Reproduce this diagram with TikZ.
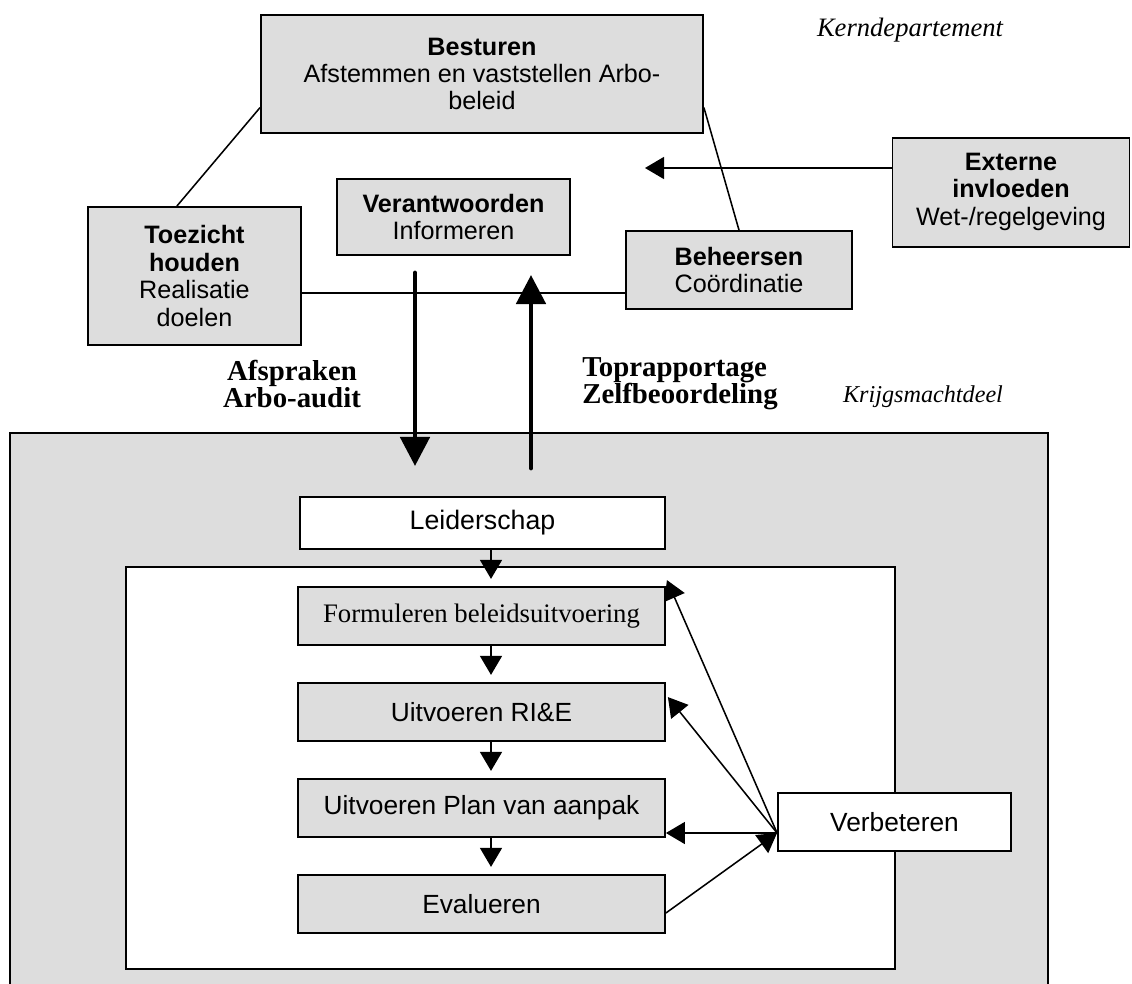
\documentclass[tikz,border=0pt]{standalone}
\usepackage{fontspec}
\setmainfont{Liberation Serif}
\setsansfont{Liberation Sans}
\usetikzlibrary{arrows.meta,calc}
\definecolor{boxgray}{RGB}{221,221,221}
\begin{document}
\begin{tikzpicture}[x=0.025cm,y=-0.025cm,
  sz/.style 2 args={minimum width=#1*0.025cm, minimum height=#2*0.025cm},
  gbox/.style={draw, fill=boxgray, line width=1.3pt, inner sep=0pt, align=center,
    font=\sffamily\fontsize{17.9}{19.5}\selectfont},
  lbox/.style={gbox, font=\sffamily\fontsize{18.7}{20}\selectfont},
  wbox/.style={lbox, fill=white},
  frame/.style={draw, line width=1.3pt, inner sep=0pt},
  conn/.style={line width=1.1pt},
  arr/.style={conn, -{Triangle[length=0.475cm,width=0.55cm]}},
  bigarr/.style={line width=3.5pt, line cap=round, -{Triangle[length=0.725cm,width=0.725cm]}},
  serlab/.style={font=\bfseries\fontsize{20.5}{19}\selectfont, inner sep=0pt},
  itlab/.style={font=\itshape\fontsize{18}{20}\selectfont, inner sep=0pt}
]
\useasboundingbox (0,0) rectangle (1132,984);
\clip (0,0) rectangle (1132,984);

% large frames
\node[frame, fill=boxgray, sz={1038}{600}] (kd) at (529,733) {};
\node[frame, fill=white, sz={769}{402}] (inner) at (510.5,768) {};

% top boxes
\node[gbox, sz={442}{118}] (bes) at (482,74)
  {{\bfseries Besturen}\\Afstemmen en vaststellen Arbo-\\beleid};
\node[gbox, sz={237}{109}] (ext) at (1011,192.5)
  {\raisebox{5pt}{\begin{tabular}{@{}c@{}}{\bfseries Externe}\\{\bfseries invloeden}\\Wet-/regelgeving\end{tabular}}};
\node[gbox, sz={233}{76}] (ver) at (453.5,217)
  {{\bfseries Verantwoorden}\\Informeren};
\node[gbox, sz={213}{138}] (toe) at (194.5,276)
  {{\bfseries Toezicht}\\{\bfseries houden}\\Realisatie\\doelen};
\node[gbox, sz={226}{78}] (beh) at (739,270)
  {{\bfseries Beheersen}\\Coördinatie};

% lower boxes
\node[wbox, sz={365}{52}, font=\sffamily\fontsize{19}{20}\selectfont] (lei) at (482.5,523) {Leiderschap};
\node[gbox, sz={367}{58}, font=\rmfamily\fontsize{19}{20}\selectfont] (f1) at (481.5,616) {Formuleren beleidsuitvoering};
\node[lbox, sz={367}{58}] (f2) at (481.5,712) {Uitvoeren RI\&E};
\node[lbox, sz={367}{58}] (f3) at (481.5,808) {Uitvoeren Plan van aanpak};
\node[lbox, sz={367}{58}] (f4) at (481.5,904) {Evalueren};
\node[wbox, sz={233}{58}] (vb) at (894.5,822) {Verbeteren};

% labels
\node[itlab, font=\itshape\fontsize{18.9}{20}\selectfont] (kern) at (910,30) {Kerndepartement};
\node[serlab, align=center] (afs) at (292,384) {Afspraken\\Arbo-audit};
\node[serlab, align=left, anchor=west] (top) at (582,384) {Toprapportage\\Zelfbeoordeling};
\node[itlab, font=\itshape\fontsize{17.2}{20}\selectfont] (krijg) at (923,397) {Krijgsmachtdeel};

% top connectors
\draw[conn] ($(bes.south west)!0.22!(bes.north west)$) -- ($(toe.north west)!0.418!(toe.north east)$);
\draw[conn] ($(bes.south east)!0.22!(bes.north east)$) -- (beh.north);
\coordinate (hl) at (0,293);
\draw[conn] (toe.east |- hl) -- (beh.west |- hl);
\coordinate (exttip) at (645,168);
\draw[arr] (ext.west |- exttip) -- (exttip);

% thick arrows
\coordinate (dA1) at (415,273);
\coordinate (dA2) at (415,466);
\draw[bigarr] (dA1) -- (dA2);
\coordinate (uA1) at (531,468);
\coordinate (uA2) at (531,275);
\draw[bigarr] (uA1) -- (uA2);

% chain arrows
\coordinate (ax) at (491,0);
\draw[arr, shorten >=0.18cm] (lei.south -| ax) -- (f1.north -| ax);
\draw[arr, shorten >=0.18cm] (f1.south -| ax) -- (f2.north -| ax);
\draw[arr, shorten >=0.18cm] (f2.south -| ax) -- (f3.north -| ax);
\draw[arr, shorten >=0.18cm] (f3.south -| ax) -- (f4.north -| ax);

% Verbeteren feedback
\coordinate (vO) at ($(vb.west)+(0,11)$);
\draw[arr] (vO) -- (f3.east |- vO);
\draw[arr] (vO) -- ($(f2.north east)+(2,15)$);
\draw[arr] (vO) -- ($(f1.north east)+(1,-6)$);
\draw[arr] ($(f4.east)+(0,9)$) -- (vO);
\end{tikzpicture}
\end{document}
